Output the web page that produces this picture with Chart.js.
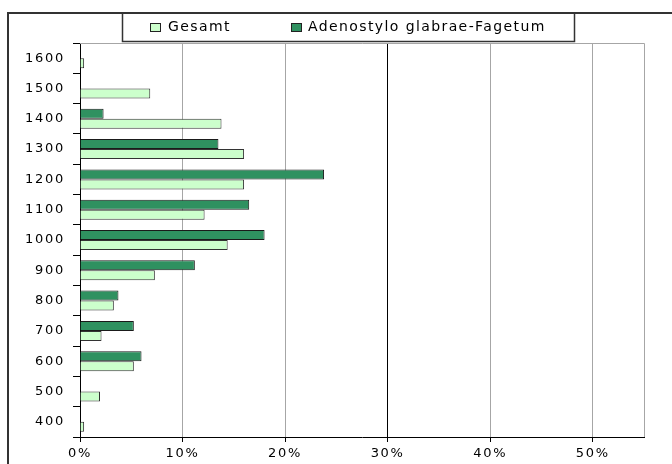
<!DOCTYPE html>
<html>
<head>
<meta charset="utf-8">
<script src="https://cdn.jsdelivr.net/npm/chart.js@4.4.1/dist/chart.umd.min.js"></script>
<style>
    html, body { margin: 0; padding: 0; background: #fff; }
    #wrap { width: 672px; height: 464px; position: relative; }
</style>
</head>
<body>
<div id="wrap"><canvas id="heightChart"></canvas></div>
<script>
// Height classes (top to bottom) and share of plots per class
const categories = ['1600', '1500', '1400', '1300', '1200', '1100', '1000', '900', '800', '700', '600', '500', '400'];
const gesamt = [0.4, 6.85, 13.8, 16.0, 16.0, 12.15, 14.4, 7.3, 3.3, 2.1, 5.25, 1.95, 0.4];
const adenostylo = [0, 0, 2.3, 13.5, 23.8, 16.5, 18.0, 11.2, 3.75, 5.25, 6.0, 0, 0];
const xTicks = [0, 10, 20, 30, 40, 50];

const FONT = "'DejaVu Sans', 'Liberation Sans', sans-serif";
const TICK_SPACING = '1.7px';

// Frame, plot border and boxed legend
const framePlugin = {
    id: 'frame',
    beforeUpdate(chart) {
        chart.ctx.letterSpacing = TICK_SPACING;
    },
    beforeDraw(chart) {
        chart.ctx.letterSpacing = TICK_SPACING;
    },
    afterDraw(chart) {
        const ctx = chart.ctx;
        const a = chart.chartArea;
        ctx.save();

        // gray top / right border of plot
        ctx.strokeStyle = '#a6a6a6';
        ctx.lineWidth = 1;
        ctx.beginPath();
        ctx.moveTo(a.left, a.top + 0.5);
        ctx.lineTo(a.right + 0.5, a.top + 0.5);
        ctx.lineTo(a.right + 0.5, a.bottom);
        ctx.stroke();

        // outer frame
        ctx.strokeStyle = '#333';
        ctx.lineWidth = 2;
        ctx.beginPath();
        ctx.moveTo(8, 470);
        ctx.lineTo(8, 13);
        ctx.lineTo(680, 13);
        ctx.stroke();

        // legend box
        ctx.lineWidth = 1.5;
        ctx.strokeRect(122.5, 13, 452, 28.5);

        // legend items (Gesamt first)
        const items = chart.data.datasets.slice().reverse();
        const boxX = [150, 291];
        const textX = [168, 308];
        ctx.font = '14px ' + FONT;
        ctx.letterSpacing = '1.4px';
        ctx.textBaseline = 'middle';
        items.forEach((ds, i) => {
            ctx.fillStyle = ds.backgroundColor;
            ctx.fillRect(boxX[i], 23, 10, 8);
            ctx.strokeStyle = '#222';
            ctx.lineWidth = 1;
            ctx.strokeRect(boxX[i] + 0.5, 23.5, 10, 8);
            ctx.fillStyle = '#000';
            ctx.fillText(ds.label, textX[i], 27.5);
        });
        ctx.restore();
    }
};

function initChart() {
    const ctx = document.getElementById('heightChart').getContext('2d');

    const data = {
        labels: categories,
        datasets: [{
            label: 'Adenostylo glabrae-Fagetum',
            data: adenostylo,
            backgroundColor: '#2f9160',
            borderColor: '#1a1a1a',
            borderWidth: 1
        }, {
            label: 'Gesamt',
            data: gesamt,
            backgroundColor: '#ccffcc',
            borderColor: '#333333',
            borderWidth: 1
        }]
    };

    const config = {
        type: 'bar',
        data: data,
        options: {
            indexAxis: 'y',
            responsive: true,
            maintainAspectRatio: false,
            animation: false,
            categoryPercentage: 0.66,
            barPercentage: 1,
            layout: {
                padding: { top: 43, right: 28, left: 0, bottom: 0 }
            },
            plugins: {
                legend: { display: false },
                tooltip: { enabled: false }
            },
            scales: {
                x: {
                    min: 0,
                    max: 55,
                    afterBuildTicks: function(axis) {
                        axis.ticks = xTicks.map(v => ({ value: v }));
                    },
                    afterFit: function(scale) {
                        scale.height = 27;
                    },
                    grid: {
                        color: function(c) {
                            const v = c.tick ? c.tick.value : null;
                            return (v === 30 || v === 0) ? '#000' : '#a6a6a6';
                        },
                        tickColor: '#000',
                        tickLength: 5
                    },
                    border: { color: '#000', width: 1 },
                    ticks: {
                        padding: 4,
                        color: '#000',
                        font: { family: FONT, size: 13 },
                        callback: function(value) {
                            return value + '%';
                        }
                    }
                },
                y: {
                    afterFit: function(scale) {
                        scale.width = 80;
                    },
                    grid: {
                        drawOnChartArea: false,
                        drawTicks: true,
                        tickLength: 7,
                        tickColor: '#000'
                    },
                    border: { color: '#000', width: 1 },
                    ticks: {
                        padding: 8,
                        color: '#000',
                        font: { family: FONT, size: 13 }
                    }
                }
            }
        },
        plugins: [framePlugin]
    };

    new Chart(ctx, config);
}

document.addEventListener('DOMContentLoaded', initChart);
</script>
</body>
</html>
